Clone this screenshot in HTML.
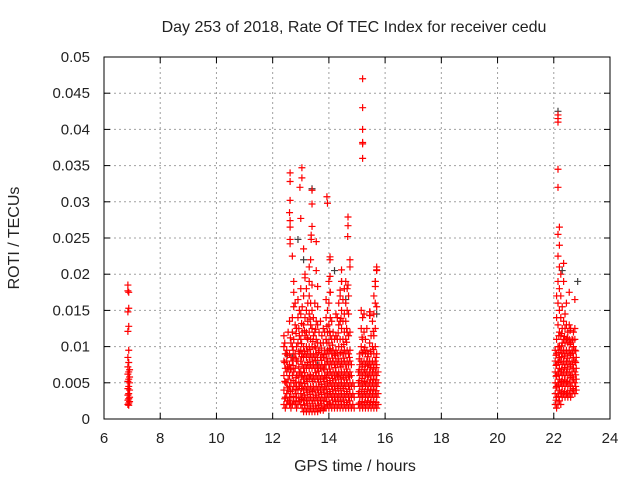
<!DOCTYPE html>
<html><head><meta charset="utf-8"><style>
body{margin:0;background:#fff}
svg text{font-family:"Liberation Sans",sans-serif;fill:#222}
</style></head><body>
<svg id="chart" width="640" height="480" xmlns="http://www.w3.org/2000/svg">
<rect width="640" height="480" fill="#fff"/>
<text x="354" y="32" font-size="16" text-anchor="middle">Day 253 of 2018, Rate Of TEC Index for receiver cedu</text>
<text x="355" y="471" font-size="16" text-anchor="middle">GPS time / hours</text>
<text x="19" y="238" font-size="16" text-anchor="middle" transform="rotate(-90 19 238)">ROTI / TECUs</text>
<g id="grid"></g><g id="ticks"></g><g id="marks"></g>
<rect x="104" y="57" width="506" height="362" fill="none" stroke="#000" stroke-width="1"/>
</svg>
<script>
const xTicks=[6,8,10,12,14,16,18,20,22,24];
const yTicks=[0,0.005,0.01,0.015,0.02,0.025,0.03,0.035,0.04,0.045,0.05];
const yTickLabels=["0","0.005","0.01","0.015","0.02","0.025","0.03","0.035","0.04","0.045","0.05"];
const colTimes=[6.85,6.88,6.91,12.40,12.45,12.50,12.55,12.60,12.65,12.70,12.75,12.80,12.85,12.90,12.95,13.00,13.05,13.10,13.15,13.20,13.25,13.30,13.35,13.40,13.45,13.50,13.55,13.60,13.65,13.70,13.75,13.80,13.85,13.90,13.95,14.00,14.05,14.10,14.15,14.20,14.25,14.30,14.35,14.40,14.45,14.50,14.55,14.60,14.65,14.70,14.75,14.80,14.85,14.90,
15.05,15.10,15.15,15.20,15.25,15.30,15.35,15.40,15.45,15.50,15.55,15.60,15.65,15.70,15.75,
22.05,22.10,22.15,22.20,22.25,22.30,22.35,22.40,22.45,22.50,22.55,22.60,22.65,22.70,22.75,22.80];
const colValues=[
[.0185,.0177,.0148,.0121,.0085,.0072,.0062,.0052,.0042,.0033,.0026,.002],
[.0175,.0153,.0128,.0095,.0078,.0065,.0055,.0045,.0035,.0028,.0022,.0019],
[.0068,.0058,.005,.004,.003,.0024],
[.002,.004,.006,.008,.010,.0115],
[.0015,.003,.005,.007,.009],
[.002,.0035,.005,.0065,.008,.0095],
[.0025,.004,.0055,.007,.012],
[.002,.003,.0045,.006,.0075,.009,.0135],
[.0015,.003,.005,.007,.0085,.0105],
[.002,.004,.006,.008,.01,.012,.014],
[.0025,.0045,.0065,.0085,.011,.0155],
[.002,.0035,.005,.007,.009,.013,.016],
[.0015,.003,.0045,.006,.008,.01,.0125],
[.002,.004,.006,.008,.0105,.014,.0165],
[.0025,.0045,.0065,.009,.0115,.015],
[.002,.0035,.005,.0065,.008,.0095,.011,.0145,.018],
[.0015,.003,.0045,.006,.0075,.009,.012,.0155],
[.001,.0025,.004,.0055,.007,.0085,.01,.013,.017],
[.0015,.003,.0045,.006,.0075,.009,.0115,.014,.0195],
[.001,.0025,.004,.0055,.007,.0085,.01,.012,.015,.018],
[.0015,.003,.0045,.006,.0075,.009,.011,.0135,.016],
[.001,.0025,.004,.0055,.007,.0085,.01,.012,.0145,.017],
[.0015,.003,.0045,.006,.0075,.009,.011,.013,.016,.022],
[.001,.0025,.004,.0055,.007,.0085,.01,.0125,.015,.0185],
[.0015,.003,.0045,.006,.0075,.009,.0115,.014],
[.001,.0025,.004,.0055,.007,.0085,.01,.012,.016],
[.0015,.003,.0045,.006,.0075,.009,.011,.0135],
[.001,.0025,.004,.0055,.007,.0085,.0105,.013,.0155],
[.0015,.003,.0045,.006,.0075,.0095,.012],
[.0012,.0025,.004,.0055,.007,.0085,.0105,.0135],
[.0015,.003,.0045,.006,.0075,.009,.0115],
[.0012,.0025,.004,.0055,.007,.0085,.0105,.0125],
[.0015,.003,.0045,.006,.0075,.0095,.012],
[.0015,.003,.0045,.006,.0075,.009,.011,.014,.0165],
[.002,.0035,.005,.0065,.008,.0095,.012,.015],
[.0015,.003,.0045,.006,.0075,.009,.0105,.013,.016,.019],
[.002,.0035,.005,.0065,.008,.0095,.0115,.014,.0175],
[.0015,.003,.0045,.006,.0075,.009,.011,.0135],
[.002,.0035,.005,.0065,.008,.0095,.012],
[.0015,.003,.0045,.006,.0075,.009,.011],
[.002,.0035,.005,.0065,.008,.0095,.0115,.0145],
[.0015,.003,.0045,.006,.0075,.009,.011,.014],
[.002,.0035,.005,.0065,.008,.01,.013,.016],
[.0015,.003,.0045,.006,.0075,.009,.011,.0135,.017],
[.002,.0035,.005,.0065,.008,.01,.0125,.015,.019],
[.0015,.003,.0045,.006,.0075,.009,.011,.0135,.0165],
[.002,.0035,.005,.0065,.008,.0095,.012,.0145,.018],
[.0015,.003,.0045,.006,.0075,.009,.011,.0135,.016,.019],
[.002,.0035,.005,.0065,.008,.0095,.012,.015,.018],
[.0015,.003,.0045,.006,.0075,.009,.0115,.0145,.017],
[.002,.0035,.005,.0065,.008,.0095,.012],
[.0015,.003,.0045,.006,.0075],
[.002,.0035,.005],
[.0015,.003,.0045],
[.002,.0035,.005,.0065],
[.0015,.003,.0045,.006,.0075,.009],
[.002,.0035,.005,.0065,.008,.01,.0125,.015],
[.0015,.003,.0045,.006,.0075,.009,.011,.014,.036,.038,.0382,.04,.043,.047],
[.002,.0035,.005,.0065,.008,.0095,.012,.0145],
[.0015,.003,.0045,.006,.0075,.009,.011],
[.002,.0035,.005,.0065,.008,.0095,.0125],
[.0015,.003,.0045,.006,.0075,.009],
[.002,.0035,.005,.0065,.008,.0105,.0143,.0148],
[.0015,.003,.0045,.006,.0075,.009,.0115],
[.002,.0035,.005,.0065,.008,.01,.0135],
[.0015,.003,.0045,.006,.0075,.009,.0115,.0145,.017],
[.002,.0035,.005,.0065,.008,.01,.0125,.016,.019],
[.0015,.003,.0045,.006,.0075,.009,.0155,.0205,.021],
[.002,.0035,.005,.0065],
[.002,.0035,.005,.0065,.008,.0095],
[.0015,.003,.0045,.006,.0075,.009,.011,.014,.017],
[.002,.0035,.005,.0065,.008,.01,.013,.016,.019,.0225,.0255,.032,.0345,.041,.0415,.042],
[.0025,.004,.0055,.007,.0085,.01,.012,.015,.018,.021,.024,.0265],
[.002,.0035,.005,.0065,.008,.0095,.0115,.014,.017,.02],
[.003,.0045,.006,.0075,.009,.0105,.0125,.0155],
[.0035,.005,.0065,.008,.0095,.011,.0135,.019,.0215],
[.003,.0045,.006,.0075,.009,.0105,.0125,.0145],
[.0035,.005,.0065,.008,.0095,.011,.013,.016],
[.003,.0045,.006,.0075,.009,.0105,.012],
[.0035,.005,.0065,.008,.0095,.011,.013,.0175],
[.003,.0045,.006,.0075,.009,.0105,.0125],
[.0035,.005,.0065,.008,.0095,.011],
[.004,.0055,.007,.0085,.01,.012],
[.0035,.005,.0065,.008,.0095,.011,.0125,.0165],
[.004,.0055,.007,.0085]];
const fillTimes=[12.43,12.53,12.63,12.73,12.83,12.93,13.03,13.13,13.23,13.33,13.43,13.53,13.63,13.73,13.83,13.93,14.03,14.13,14.23,14.33,14.43,14.53,14.63,14.73,15.08,15.18,15.28,15.38,15.48,15.58,15.68,22.08,22.18,22.28,22.38,22.48,22.58,22.68,22.78];
const fillValues=[
[.0028,.0052,.0078,.0105],[.0025,.0043,.0072,.0088],[.0022,.0038,.0068,.0112],[.0031,.0053,.0074,.0095],
[.0024,.0041,.0057,.0083,.0118],[.0029,.0051,.0072,.0093,.0125],[.0027,.0042,.0058,.0086,.0104,.0132],[.0019,.0033,.0049,.0064,.0093,.0122],
[.0021,.0037,.0052,.0078,.0094,.0112],[.0018,.0034,.0061,.0079,.0096,.0138],[.0021,.0038,.0052,.0079,.0107],[.0018,.0033,.0064,.0081,.0098,.0124],
[.0019,.0036,.0051,.0066,.0092],[.0021,.0034,.0048,.0081,.0098],[.0018,.0037,.0052,.0068,.0089],[.0024,.0041,.0057,.0083,.0105,.0128],
[.0022,.0038,.0053,.0069,.0097,.0121],[.0026,.0041,.0056,.0084,.0102],[.0024,.0039,.0054,.0071,.0088],[.0026,.0042,.0058,.0083,.0119],
[.0024,.0039,.0055,.0072,.0092,.0139],[.0026,.0042,.0057,.0084,.0103],[.0023,.0038,.0054,.0069,.0106,.0125],[.0025,.0041,.0058,.0085],
[.0022,.0038,.0053,.0068,.0083],[.0024,.0041,.0056,.0072,.0092,.0113],[.0023,.0038,.0052,.0068,.0099],[.0025,.0041,.0058,.0073,.0086],
[.0023,.0039,.0054,.0071,.0093],[.0024,.0041,.0055,.0069,.0096,.0121],[.0023,.0039,.0054,.0071,.0085],
[.0026,.0043,.0059,.0074,.0088],[.0031,.0047,.0062,.0078,.0092,.0115],[.0037,.0052,.0068,.0086,.0101,.0118],[.0038,.0054,.0071,.0087,.0114],
[.0036,.0052,.0069,.0084,.0112],[.0039,.0057,.0072,.0088,.0103,.0122],[.0042,.0058,.0075,.0091,.0109],[.0045,.0061,.0078,.0094]];
const spikeTimes=[12.62,13.04,13.04,12.62,12.97,12.62,13.4,13.4,13.93,13.95,12.6,13.0,14.68,14.68,14.67,12.62,12.62,13.4,13.37,12.62,12.62,13.37,13.55,12.7,13.1,14.04,14.04,14.75,14.45,14.75,15.7,13.3,13.55,13.15,14.04,12.75,13.3,14.45,14.68,15.65,15.65,12.75,14.04,13.6,14.4,15.46,15.46];
const spikeValues=[.034,.0347,.0333,.0328,.032,.0302,.0316,.0297,.0307,.0298,.0285,.0277,.0279,.0267,.0252,.0274,.0265,.0266,.0254,.0248,.0242,.0248,.0245,.0225,.0235,.0224,.022,.022,.0206,.021,.0206,.021,.0205,.02,.0197,.019,.019,.019,.0185,.019,.0183,.0175,.0175,.0183,.0178,.0148,.0143];
const grayTimes=[13.4,12.9,13.1,14.2,15.7,22.15,22.3,22.85,12.5,12.7,14.6,13.6,14.3];
const grayValues=[.0318,.0248,.022,.0205,.0145,.0425,.0205,.019,.009,.0085,.0165,.0075,.006];

const X0=104,X1=610,Y0=419,Y1=57;
function xs(t){return X0+(t-6)/18*(X1-X0);}
function ys(v){return Y0-v/0.05*(Y0-Y1);}
const NS="http://www.w3.org/2000/svg";
const grid=document.getElementById('grid'),ticks=document.getElementById('ticks'),marks=document.getElementById('marks');
function el(tag,attrs,parent){const e=document.createElementNS(NS,tag);for(const k in attrs)e.setAttribute(k,attrs[k]);parent.appendChild(e);return e;}
xTicks.forEach((t,i)=>{
  const x=xs(t);
  if(i>0&&i<xTicks.length-1){const g=el('line',{x1:x,y1:Y0,x2:x,y2:Y1,stroke:'#a0a0a0','stroke-dasharray':'2,3'},grid);
  
  }
  el('line',{x1:x,y1:Y0,x2:x,y2:Y0-6,stroke:'#000'},ticks);
  el('line',{x1:x,y1:Y1,x2:x,y2:Y1+6,stroke:'#000'},ticks);
  const tx=el('text',{x:x,y:443,'font-size':15,'text-anchor':'middle'},ticks);tx.textContent=t;
  
  
});
yTicks.forEach((v,i)=>{
  const y=ys(v);
  if(i>0&&i<yTicks.length-1){const g=el('line',{x1:X0,y1:y,x2:X1,y2:y,stroke:'#a0a0a0','stroke-dasharray':'2,3'},grid);
  
  }
  el('line',{x1:X0,y1:y,x2:X0+6,y2:y,stroke:'#000'},ticks);
  el('line',{x1:X1,y1:y,x2:X1-6,y2:y,stroke:'#000'},ticks);
  const tx=el('text',{x:90,y:y+5,'font-size':15,'text-anchor':'end'},ticks);tx.textContent=yTickLabels[i];
  
  
});
function plus(t,v,color,name){
  const x=xs(t),y=ys(v);
  const p=el('path',{d:`M${x-3.5},${y}h7M${x},${y-3.5}v7`,stroke:color,'stroke-width':1.2,fill:'none'},marks);
  
  
}
grayTimes.forEach((t,i)=>plus(t,grayValues[i],'#404040','roti-point-secondary'));
colTimes.forEach((t,i)=>colValues[i].forEach(v=>plus(t,v,'#ff0000','roti-point')));
fillTimes.forEach((t,i)=>fillValues[i].forEach(v=>plus(t,v,'#ff0000','roti-point')));
spikeTimes.forEach((t,i)=>plus(t,spikeValues[i],'#ff0000','roti-point'));
</script>
</body></html>
